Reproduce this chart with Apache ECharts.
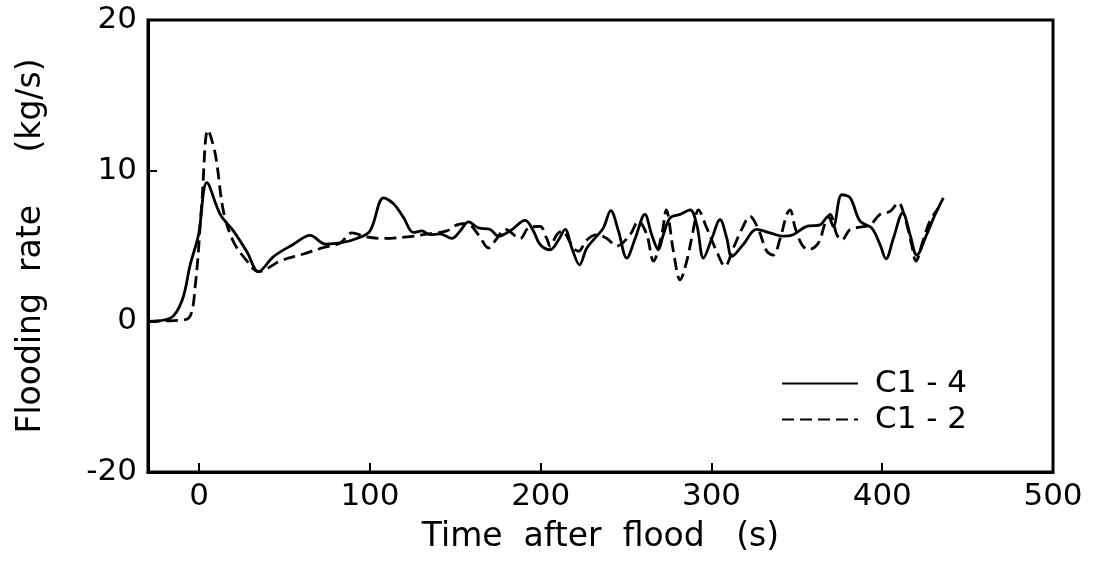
<!DOCTYPE html>
<html>
<head>
<meta charset="utf-8">
<script src="https://cdn.jsdelivr.net/npm/echarts@6/dist/echarts.min.js"></script>
<style>
html,body{margin:0;padding:0;background:#fff;}
#chart{width:1102px;height:565px;}
</style>
</head>
<body>
<div id="chart"></div>
<script>
// C1-4 (solid)
const timeC14 = [-30,-17,-10,-5.3,-0.4,4.5,12.3,20,28,34.7,43.5,55,65,73.8,82.6,92.3,100,108,113.8,119.6,125.5,130.4,135.2,141,148,152.8,157.7,163.5,170.4,175.2,182,190.9,195.7,199.6,205.5,210.4,214.3,218.2,222.7,227,232.8,236.7,241,245.5,250.4,255.3,261,265,268.9,271.8,275.8,281.6,287.5,291.4,295.3,300.2,305,309,311.9,318.6,326.4,334.2,342,347.8,355.7,363.5,368.3,371.3,376.3,381.2,387,393.8,398.7,402.2,406.5,412,416.3,420.2,426,431,435.8];
const rateC14 = [0,0.2,1.4,3.75,5.75,9.2,7.1,6.0,4.6,3.3,4.3,5.1,5.7,5.13,5.2,5.5,6.0,8.2,7.8,6.9,5.9,6.0,5.75,5.8,5.5,6.0,6.6,6.2,6.1,5.65,6.0,6.7,6.0,5.1,4.75,5.4,6.1,4.87,3.75,4.87,5.65,6.2,7.35,6.0,4.2,5.5,7.1,5.75,4.75,5.75,6.87,7.1,7.4,6.4,4.2,5.5,6.75,5.5,4.3,5.1,6.1,5.87,5.65,5.75,6.3,6.4,6.97,6.3,8.4,8.2,6.65,6.2,5.1,4.15,5.5,7.2,5.75,4.4,5.75,7.1,8.2];
// C1-2 (dashed)
const timeC12 = [-30,-15,-6.3,-2.3,1.6,5.1,9.4,14.2,20,28,34.7,47.4,61,72.8,82.6,89.4,98,108,121.6,131,145,150.9,156.7,163.5,169.4,174.3,179.2,188,192.8,199.6,203.5,205.5,209.4,212.3,219.2,222.1,227,232.8,238.7,244.6,252.3,257.2,262.1,266,270.9,273.5,277.7,281.6,285.5,289.4,292.3,297.2,303,307.9,312.8,317.7,322.6,327.5,332.4,336.2,340.2,344.1,346,349,352.9,356.8,362.6,366.5,369.5,373.4,376.3,381.2,387,392.9,398.7,404.6,409.4,413.3,417.2,419.7,424,427.9,432.8];
const rateC12 = [0,0.05,0.2,2.4,8.0,12.7,11.1,7.3,5.3,4.0,3.3,4.0,4.47,4.9,5.2,5.87,5.6,5.5,5.6,5.75,6.0,6.4,6.5,5.75,4.87,5.5,6.1,5.5,6.2,6.3,5.5,5.0,5.75,6.0,4.87,4.65,5.4,5.75,5.5,5.0,5.75,6.65,5.75,4.0,5.75,7.4,4.65,2.75,4.0,6.1,7.4,6.2,4.65,3.65,4.87,6.1,6.97,6.1,4.65,4.4,5.5,7.1,7.4,6.2,5.1,4.75,5.2,6.5,7.1,5.75,5.4,6.1,6.25,6.4,7.1,7.3,7.87,6.87,5.1,4.0,5.4,6.65,7.5];
const xTicks = [0,100,200,300,400,500];
const yTickLabels = {"20":"20","10":"10","0":"0","-10":"-20"};
const seriesNames = ["C1 - 4","C1 - 2"];

const zip = (a,b) => a.map((v,i)=>[v,b[i]]);
const FONT = "DejaVu Sans";
const chart = echarts.init(document.getElementById('chart'), null, {renderer:'canvas'});
chart.setOption({
  animation:false,
  backgroundColor:'#fff',
  grid:{left:148,right:49,top:20,bottom:93,show:true,borderColor:'#000',borderWidth:3,backgroundColor:'transparent'},
  legend:{
    orient:'vertical', left:776, top:363, itemWidth:76, itemHeight:14, itemGap:5,
    itemStyle:{opacity:0},
    textStyle:{fontFamily:FONT,fontSize:31,lineHeight:30,color:'#000',padding:[0,0,0,12]},
    data:seriesNames
  },
  xAxis:{
    type:'value', min:-30, max:500,
    name:'Time  after  flood   (s)', nameLocation:'middle', nameGap:49,
    nameTextStyle:{fontFamily:FONT,fontSize:33,color:'#000'},
    axisLine:{show:true,onZero:false,lineStyle:{color:'#000',width:3}},
    axisTick:{show:true,inside:true,length:9,lineStyle:{color:'#000',width:2},customValues:xTicks},
    axisLabel:{fontFamily:FONT,fontSize:31,color:'#000',margin:9,customValues:xTicks},
    splitLine:{show:false}
  },
  yAxis:{
    type:'value', min:-10, max:20, interval:10,
    name:'Flooding  rate     (kg/s)', nameLocation:'middle', nameGap:100, nameRotate:90,
    nameTextStyle:{fontFamily:FONT,fontSize:33,color:'#000'},
    axisLine:{show:true,onZero:false,lineStyle:{color:'#000',width:3}},
    axisTick:{show:true,inside:true,length:9,lineStyle:{color:'#000',width:2}},
    axisLabel:{fontFamily:FONT,fontSize:31,color:'#000',margin:11,formatter:v=>yTickLabels[String(v)]},
    splitLine:{show:false}
  },
  series:[
    {name:seriesNames[0],type:'line',data:zip(timeC14,rateC14),smooth:0.35,symbol:'none',
     lineStyle:{color:'#000',width:2.8,type:'solid'},itemStyle:{color:'#000'}},
    {name:seriesNames[1],type:'line',data:zip(timeC12,rateC12),smooth:0.35,symbol:'none',
     lineStyle:{color:'#000',width:2.8,type:[12,6]},itemStyle:{color:'#000'}}
  ]
});
</script>
</body>
</html>
